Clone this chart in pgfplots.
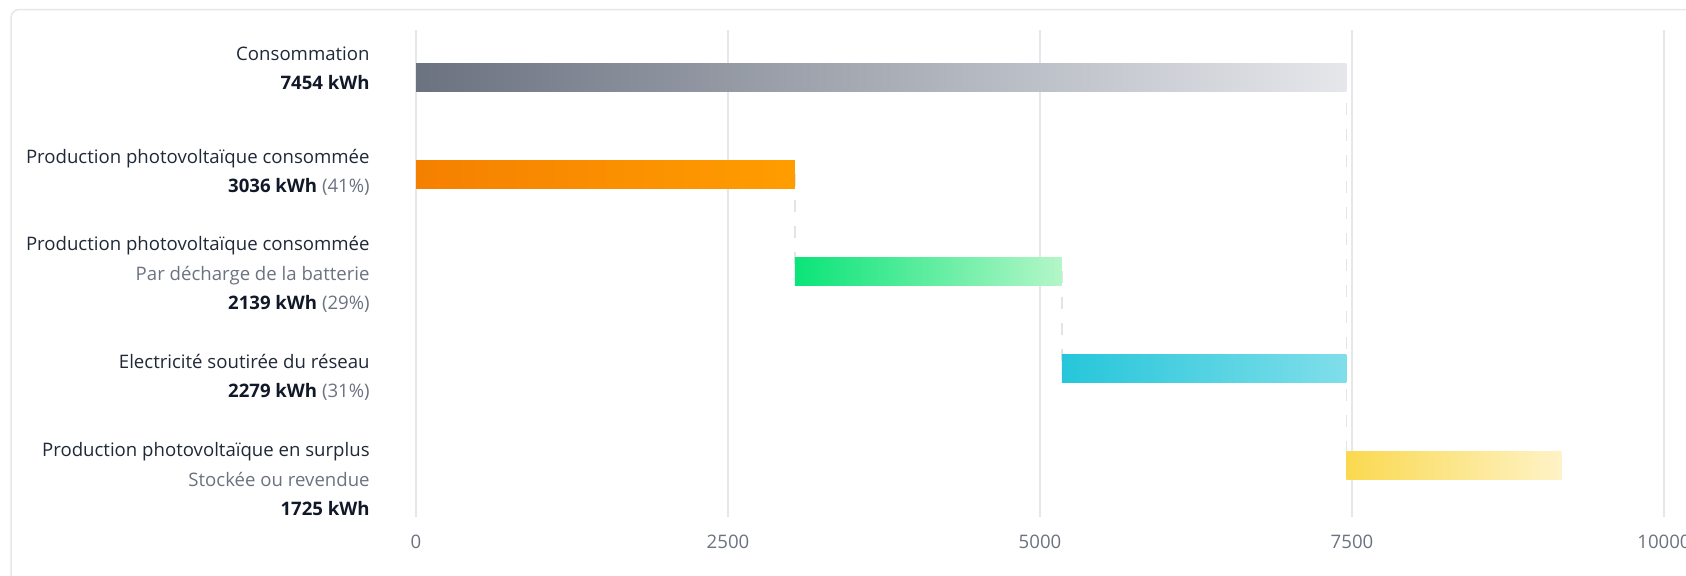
\documentclass[border=0pt]{standalone}
\usepackage{fontspec}
\setmainfont{Open Sans}
\usepackage{pgfplots}
\pgfplotsset{compat=1.18}
\definecolor{cardb}{HTML}{E5E7EB}
\definecolor{gridc}{HTML}{E5E7EB}
\definecolor{dashc}{HTML}{E2E4E8}
\definecolor{titlec}{HTML}{1F2937}
\definecolor{valc}{HTML}{111827}
\definecolor{subc}{HTML}{6B7280}
\definecolor{tickc}{HTML}{6B7280}
\definecolor{grayL}{HTML}{6B7280}
\definecolor{grayR}{HTML}{E5E7EB}
\definecolor{orL}{RGB}{245,128,0}
\definecolor{orR}{RGB}{255,157,0}
\definecolor{grL}{RGB}{10,228,120}
\definecolor{grR}{RGB}{180,246,200}
\definecolor{cyL}{RGB}{38,198,218}
\definecolor{cyR}{RGB}{128,222,234}
\definecolor{yeL}{RGB}{250,217,80}
\definecolor{yeR}{RGB}{254,243,199}
\pgfplotsset{
  base/.style={
    at={(520pt,-136.75pt)}, anchor=center,
    scale only axis, width=624pt, height=243.5pt,
    xmin=0, xmax=10000, ymin=-0.486, ymax=4.529, y dir=reverse,
    clip=false,
  }
}
\newcommand{\lab}[3]{\node[anchor=base east, inner sep=0pt, font=\fontsize{9.3}{11}\selectfont, text=#3] at (185pt,-#1) {#2};}
\begin{document}
\begin{tikzpicture}
\useasboundingbox (0,0) rectangle (843pt,-287.5pt);
\draw[cardb, line width=0.75pt, rounded corners=4pt] (5.5pt,-4.75pt) rectangle (870pt,-310pt);
% axis with grid, ticks, connectors and the consumption bar
\begin{axis}[base,
  xtick={0,2500,5000,7500,10000}, ytick=\empty,
  scaled x ticks=false,
  /pgf/number format/1000 sep={},
  /pgf/number format/assume math mode=true,
  xmajorgrids, grid style={gridc, line width=0.75pt},
  axis line style={draw=none}, major tick length=0pt,
  xticklabel style={font=\fontsize{9.3}{11}\selectfont, text=tickc, anchor=base, yshift=-15.5pt},
]
\addplot[dashc, line width=0.75pt, dash pattern=on 6pt off 7pt] coordinates {(7454,0) (7454,4)};
\addplot[dashc, line width=0.75pt, dash pattern=on 6pt off 7pt] coordinates {(3036,1) (3036,2)};
\addplot[dashc, line width=0.75pt, dash pattern=on 6pt off 7pt] coordinates {(5175,2) (5175,3)};
\addplot[xbar, bar width=14pt, bar shift=0pt, draw=none, left color=grayL, right color=grayR] coordinates {(7454,0)};
\end{axis}
% waterfall of the parts
\begin{axis}[base, hide axis, xbar stacked, bar width=14pt]
\addplot[draw=none, left color=orL, right color=orR] coordinates {(3036,1)};
\addplot[draw=none, left color=grL, right color=grR] coordinates {(2139,2)};
\addplot[draw=none, left color=cyL, right color=cyR] coordinates {(2279,3)};
\addplot[draw=none, left color=yeL, right color=yeR] coordinates {(1725,4)};
\end{axis}
\lab{30pt}{Consommation}{titlec}
\lab{44.5pt}{\textbf{7454 kWh}}{valc}
\lab{81.65pt}{Production photovoltaïque consommée}{titlec}
\lab{96.35pt}{\textbf{3036 kWh} \textcolor{subc}{(41\%)}}{valc}
\lab{125pt}{Production photovoltaïque consommée}{titlec}
\lab{140pt}{Par décharge de la batterie}{subc}
\lab{154.5pt}{\textbf{2139 kWh} \textcolor{subc}{(29\%)}}{valc}
\lab{184.15pt}{Electricité soutirée du réseau}{titlec}
\lab{198.65pt}{\textbf{2279 kWh} \textcolor{subc}{(31\%)}}{valc}
\lab{228.35pt}{Production photovoltaïque en surplus}{titlec}
\lab{243pt}{Stockée ou revendue}{subc}
\lab{257.5pt}{\textbf{1725 kWh}}{valc}
\end{tikzpicture}
\end{document}
